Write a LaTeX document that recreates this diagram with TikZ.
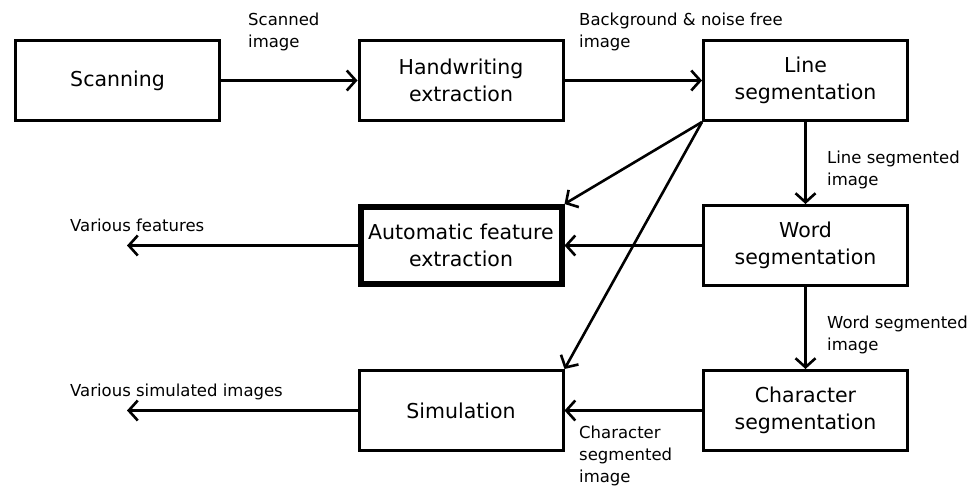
\documentclass[tikz,border=0pt]{standalone}
\usepackage{fontspec}
\setmainfont{DejaVu Sans}
\usetikzlibrary{arrows.meta}
\begin{document}
\begin{tikzpicture}[x=1pt,y=-1pt,
  procbox/.style={draw=black,line width=3pt,minimum width=204pt,minimum height=80pt,inner sep=0pt,align=center,font=\fontsize{20.5}{27}\selectfont},
  thickbox/.style={procbox,line width=6pt,minimum width=201pt,minimum height=77pt},
  lab/.style={anchor=north west,inner sep=0pt,align=left,font=\fontsize{16.5}{22}\selectfont},
  flow/.style={line width=2.6pt,-{Straight Barb[length=9pt,width=20pt,line width=2.6pt]}}
]
\useasboundingbox (0,0) rectangle (973,486);
\node[procbox] (scan) at (117.5,80.5) {Scanning};
\node[procbox] (hand) at (461,80.5) {Handwriting\\extraction};
\node[procbox] (line) at (805.5,80.5) {Line\\segmentation};
\node[thickbox] (auto) at (461,245.5) {Automatic feature\\extraction};
\node[procbox] (word) at (805.5,245.5) {Word\\segmentation};
\node[procbox] (sim) at (461,410.5) {Simulation};
\node[procbox] (char) at (805.5,410.5) {Character\\segmentation};
\coordinate (featend) at (127,245.5);
\coordinate (simend) at (127,410.5);
\draw[flow] (scan) -- (hand);
\draw[flow] (hand) -- (line);
\draw[flow] (line) -- (word);
\draw[flow] (word) -- (char);
\draw[flow] (word) -- (auto);
\draw[flow] (char) -- (sim);
\draw[flow] (auto) -- (featend);
\draw[flow] (sim) -- (simend);
\draw[flow] (line.south west) -- (auto.north east);
\draw[flow] (line.south west) -- (sim.north east);
\node[lab] (l1) at (248,13) {Scanned\\image};
\node[lab] (l2) at (579,13) {Background \& noise free\\image};
\node[lab] (l3) at (827,151) {Line segmented\\image};
\node[lab] (l4) at (827,316) {Word segmented\\image};
\node[lab] (l5) at (579,426) {Character\\segmented\\image};
\node[lab] (l6) at (70,219) {Various features};
\node[lab] (l7) at (70,384) {Various simulated images};
\end{tikzpicture}
\end{document}
